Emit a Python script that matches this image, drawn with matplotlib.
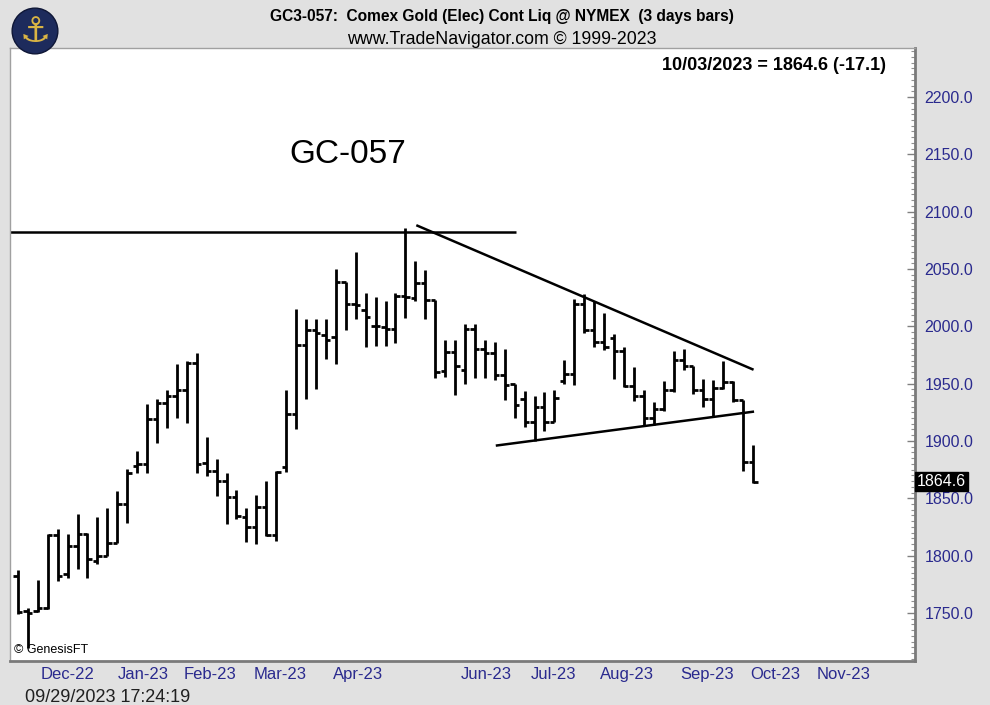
import matplotlib.pyplot as plt
from matplotlib.patches import Circle
from matplotlib.ticker import MultipleLocator
import numpy as np

# 3-day bars, GC3-057 continuous gold
opens = [1782.3, 1751.7, 1752.0, 1754.6, 1818.2, 1784.0, 1808.5, 1819.0, 1795.4, 1799.8,
         1811.2, 1845.2, 1878.4, 1880.2, 1919.5, 1933.5, 1939.6, 1944.0, 1967.6, 1880.5,
         1874.1, 1865.3, 1851.3, 1833.9, 1824.5, 1842.6, 1818.2, 1877.0, 1923.6, 1983.3,
         1996.4, 1992.0, 1990.6, 2038.6, 2019.7, 2014.5, 1999.9, 1999.3, 1997.9, 2026.1,
         2025.0, 2037.7, 2022.6, 1960.8, 1977.4, 1961.5, 1997.9, 1980.4, 1976.6, 1957.1,
         1949.8, 1936.7, 1916.3, 1929.4, 1916.3, 1952.7, 1958.6, 2019.7, 1996.4, 1986.2,
         1990.0, 1978.3, 1947.5, 1939.6, 1920.1, 1928.0, 1944.0, 1970.2, 1965.0, 1944.0,
         1936.7, 1946.3, 1951.2, 1935.8, 1881.7]
highs = [1787.3, 1754.6, 1778.6, 1819.0, 1823.4, 1819.0, 1836.5, 1819.9, 1833.9, 1841.7,
         1856.6, 1875.8, 1891.5, 1932.6, 1937.0, 1944.0, 1966.7, 1969.3, 1976.3, 1903.2,
         1884.6, 1871.7, 1857.5, 1841.7, 1853.1, 1864.7, 1874.1, 1944.0, 2015.4, 2006.6,
         2006.6, 2006.6, 2050.3, 2038.6, 2064.8, 2029.0, 2025.5, 2022.0, 2029.0, 2086.1,
         2057.0, 2048.8, 2023.2, 1988.3, 1988.3, 2001.6, 2001.6, 1988.3, 1986.2, 1980.4,
         1949.8, 1943.4, 1939.6, 1942.5, 1944.0, 1970.2, 2024.1, 2027.9, 2022.0, 2011.5,
         1992.9, 1981.8, 1964.3, 1944.6, 1933.8, 1952.7, 1978.3, 1980.4, 1965.8, 1954.2,
         1953.3, 1969.6, 1952.7, 1935.8, 1896.8]
lows = [1748.8, 1719.7, 1751.1, 1753.5, 1778.0, 1780.6, 1788.4, 1780.6, 1792.8, 1799.8,
        1811.2, 1828.6, 1872.3, 1872.3, 1898.5, 1911.6, 1920.4, 1916.0, 1872.3, 1869.7,
        1852.2, 1827.8, 1832.1, 1811.4, 1810.5, 1817.3, 1812.9, 1872.6, 1910.5, 1936.7,
        1945.5, 1971.7, 1966.7, 1996.4, 2006.6, 1981.8, 1982.4, 1982.4, 1985.3, 2007.5,
        2022.0, 2006.6, 1955.1, 1956.2, 1940.5, 1949.8, 1955.1, 1955.1, 1953.3, 1935.8,
        1920.1, 1911.9, 1900.3, 1909.0, 1916.3, 1949.8, 1949.2, 1994.0, 1981.8, 1978.9,
        1954.2, 1946.9, 1935.2, 1913.4, 1914.3, 1926.5, 1942.5, 1961.5, 1941.1, 1929.4,
        1921.3, 1945.5, 1933.8, 1874.1, 1863.5]
closes = [1751.1, 1750.3, 1754.6, 1818.2, 1782.3, 1808.5, 1819.0, 1797.2, 1799.8, 1811.2,
          1845.2, 1872.3, 1880.2, 1919.5, 1933.5, 1939.6, 1944.0, 1968.4, 1880.2, 1874.1,
          1865.3, 1850.7, 1834.8, 1824.5, 1842.6, 1818.2, 1872.6, 1923.6, 1983.3, 1996.4,
          1993.8, 1987.7, 2038.6, 2019.7, 2018.2, 2008.0, 1999.9, 1997.9, 2026.1, 2025.5,
          2037.7, 2022.6, 1960.0, 1977.4, 1965.8, 1997.9, 1980.4, 1976.6, 1957.1, 1949.2,
          1931.7, 1916.3, 1929.4, 1916.3, 1937.6, 1958.6, 2019.7, 1996.4, 1986.2, 1981.8,
          1978.3, 1947.5, 1939.6, 1920.1, 1928.0, 1944.0, 1970.2, 1965.0, 1944.0, 1936.7,
          1946.3, 1951.2, 1935.8, 1881.7, 1864.6]

# month labels, placed by bar index
month_names = ['Dec-22', 'Jan-23', 'Feb-23', 'Mar-23', 'Apr-23', 'Jun-23',
               'Jul-23', 'Aug-23', 'Sep-23', 'Oct-23', 'Nov-23']
month_pos = [5.0, 12.6, 19.3, 26.4, 34.2, 47.1, 53.9, 61.3, 69.4, 76.2, 83.1]

# hand-drawn trendlines: (bar index list, price list)
resistance_x, resistance_y = [-0.8, 50.15], [2082.5, 2082.5]
downtrend_x, downtrend_y = [40.1, 74.05], [2088.2, 1962.1]
support_x, support_y = [48.1, 74.1], [1895.9, 1925.6]

last_date = '10/03/2023'

BG = '#e1e1e1'
NAVY = '#2a2a8e'
plt.rcParams['font.family'] = ['Liberation Sans', 'DejaVu Sans']

fig = plt.figure(figsize=(9.9, 7.05), dpi=100, facecolor=BG)
ax = fig.add_axes([10 / 990, 44 / 705, 905 / 990, 613 / 705])
ax.set_facecolor('white')

x = np.arange(len(closes))
ax.vlines(x, lows, highs, color='black', lw=2.0)
ax.hlines(opens, x - 0.45, x, color='black', lw=2.0)
ax.hlines(closes, x, x + 0.45, color='black', lw=2.0)

for lx, ly in [(resistance_x, resistance_y), (downtrend_x, downtrend_y), (support_x, support_y)]:
    ax.plot(lx, ly, color='black', lw=1.8, solid_capstyle='butt')

ax.set_xlim(-0.8, 90.3)

# right price axis
ax.yaxis.tick_right()
ax.yaxis.set_major_locator(MultipleLocator(50))
ax.yaxis.set_minor_locator(MultipleLocator(5))
ax.yaxis.set_major_formatter(lambda v, p: f'{v:.1f}')
ax.tick_params(axis='y', which='major', direction='in', length=6, width=1,
               color='#808080', labelsize=11.5, labelcolor=NAVY, pad=7)
ax.tick_params(axis='y', which='minor', direction='in', length=3, width=0.8, color='#909090')
ax.set_ylim(1708, 2242.8)

ax.set_xticks(month_pos)
ax.set_xticklabels(month_names)
ax.tick_params(axis='x', length=0, labelsize=12, labelcolor=NAVY, pad=4)

for side in ['left', 'top']:
    ax.spines[side].set_color('#a0a0a0')
    ax.spines[side].set_linewidth(1)
for side in ['right', 'bottom']:
    ax.spines[side].set_color('#7a7a7a')
    ax.spines[side].set_linewidth(2)

# last price box on the axis
change = closes[-1] - closes[-2]
ax.text(1.002, closes[-1], f'{closes[-1]:.1f}', transform=ax.get_yaxis_transform(),
        ha='left', va='center', color='white', fontsize=11.5, clip_on=False, zorder=10,
        bbox=dict(boxstyle='square,pad=0.12', fc='black', ec='black'))

ax.text(0.968, 0.985, f'{last_date} = {closes[-1]:.1f} ({change:.1f})', transform=ax.transAxes,
        ha='right', va='top', fontsize=13, fontweight='bold')
ax.text(0.373, 0.826, 'GC-057', transform=ax.transAxes, ha='center', va='center', fontsize=24)
ax.text(0.004, 0.008, '© GenesisFT', transform=ax.transAxes, ha='left', va='bottom', fontsize=9)

fig.text(502 / 990, 1 - 17 / 705, 'GC3-057:  Comex Gold (Elec) Cont Liq @ NYMEX  (3 days bars)',
         ha='center', va='center', fontsize=11.2, fontweight='bold')
fig.text(502 / 990, 1 - 39 / 705, 'www.TradeNavigator.com © 1999-2023',
         ha='center', va='center', fontsize=12.8)
fig.text(25 / 990, 1 - 697 / 705, '09/29/2023 17:24:19', ha='left', va='center',
         fontsize=13, color='#202020')

# logo
lax = fig.add_axes([11 / 990, 1 - 55 / 705, 48 / 990, 48 / 705])
lax.set_xlim(-1.05, 1.05)
lax.set_ylim(-1.05, 1.05)
lax.set_aspect('equal')
lax.axis('off')
lax.add_patch(Circle((0, 0), 1, fc='#1d2b5c', ec='#0e1636', lw=1))
lax.text(0, -0.05, '⚓', ha='center', va='center', fontsize=25, color='#d9b444',
         family=['DejaVu Sans'])

fig.savefig('out.png', dpi=100, facecolor=BG)
